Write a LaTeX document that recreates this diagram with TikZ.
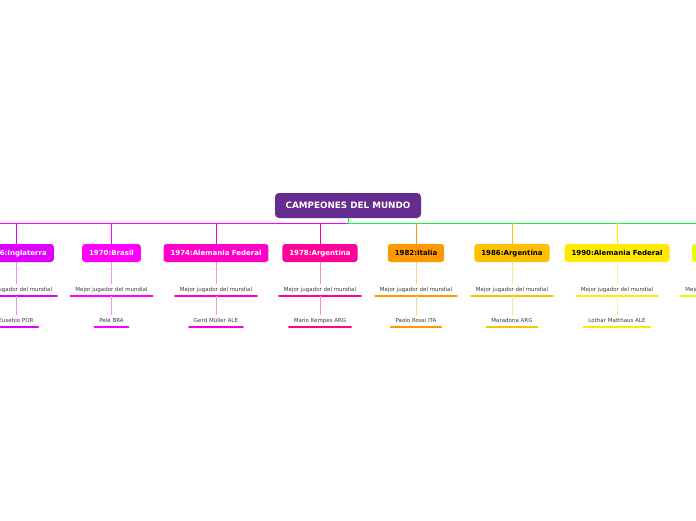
\documentclass[tikz,border=0pt]{standalone}
\usepackage{fontspec}
\setmainfont{DejaVu Sans}
\definecolor{rootc}{HTML}{662D91}
\definecolor{ca}{HTML}{E000FF}
\definecolor{cb}{HTML}{FF00FF}
\definecolor{cc}{HTML}{FF00CC}
\definecolor{cd}{HTML}{FF0099}
\definecolor{ce}{HTML}{FF9900}
\definecolor{cf}{HTML}{FFC000}
\definecolor{cg}{HTML}{FFEA00}
\definecolor{ch}{HTML}{E5FF00}
\definecolor{lineleft}{HTML}{FF00FF}
\definecolor{lineright}{HTML}{00FF33}
\definecolor{txtgrey}{HTML}{3A3A3A}
\tikzset{
  rootbox/.style={fill=rootc, rounded corners=4pt, minimum width=146pt, minimum height=25pt,
    inner sep=0pt, text=white, text height=6.4pt, text depth=0pt, font=\fontsize{8.8}{10}\selectfont\bfseries},
  yearbox/.style={fill=#1, rounded corners=3pt, minimum height=18pt, inner xsep=7pt, inner ysep=0pt,
    text height=5.1pt, text depth=0pt, font=\fontsize{7}{8}\selectfont\bfseries},
  lbl/.style={anchor=south, inner xsep=4.5pt, inner ysep=3pt, text height=4.2pt, text depth=1.3pt,
    text=txtgrey, font=\fontsize{5.5}{6}\selectfont},
  uline/.style={draw=#1, line width=2.6pt, line cap=round},
  conn/.style={draw=#1, line width=0.8pt},
  sub/.style={draw=#1!45!white, line width=0.8pt},
}
\begin{document}
\begin{tikzpicture}[x=1pt,y=-1pt]
\useasboundingbox[fill=white] (0,0) rectangle (696,520);
% root
\node[rootbox] (root) at (348,205.5) {CAMPEONES DEL MUNDO};
\coordinate (hl0) at (0,223);
\coordinate (hlm) at (348,223);
\coordinate (hl1) at (696,223);
\draw[conn=lineleft] (hl0) -- (hlm);
\draw[conn=lineright] (root.south) |- (hl1);
% year nodes
\node[yearbox=ca, text=white] (y1) at (16,253) {1966:Inglaterra};
\node[yearbox=cb, text=white] (y2) at (111.5,253) {1970:Brasil};
\node[yearbox=cc, text=white] (y3) at (216,253) {1974:Alemania Federal};
\node[yearbox=cd, text=white] (y4) at (320,253) {1978:Argentina};
\node[yearbox=ce, text=black] (y5) at (416,253) {1982:Italia};
\node[yearbox=cf, text=black] (y6) at (512,253) {1986:Argentina};
\node[yearbox=cg, text=black] (y7) at (617,253) {1990:Alemania Federal};
\node[yearbox=ch, text=black] (y8) at (721.5,253) {1994:Brasil};
% branch connectors
\foreach \n/\c in {y1/ca,y2/cb,y3/cc,y4/cd,y5/ce,y6/cf,y7/cg,y8/ch}{
  \draw[conn=\c] (\n.north) -- (\n.north |- hlm);
}
% labels
\foreach \n/\x/\c in {1/16/ca,2/111.5/cb,3/216/cc,4/320/cd,5/416/ce,6/512/cf,7/617/cg,8/721.5/ch}{
  \node[lbl] (m\n) at (\x,296) {Mejor jugador del mundial};
  \draw[uline=\c] (m\n.south west) -- (m\n.south east);
  \draw[sub=\c] (y\n.south) -- (m\n.north);
}
% players
\foreach \n/\x/\c/\t in {1/16/ca/Eusebio POR,2/111.5/cb/Pelé BRA,3/216/cc/Gerd Müller ALE,
  4/320/cd/Mario Kempes ARG,5/416/ce/Paolo Rossi ITA,6/512/cf/Maradona ARG,7/617/cg/Lothar Matthaus ALE}{
  \node[lbl] (p\n) at (\x,327) {\t};
  \draw[uline=\c] (p\n.south west) -- (p\n.south east);
  \draw[sub=\c] (m\n.south) -- (p\n.north);
}
\end{tikzpicture}
\end{document}
